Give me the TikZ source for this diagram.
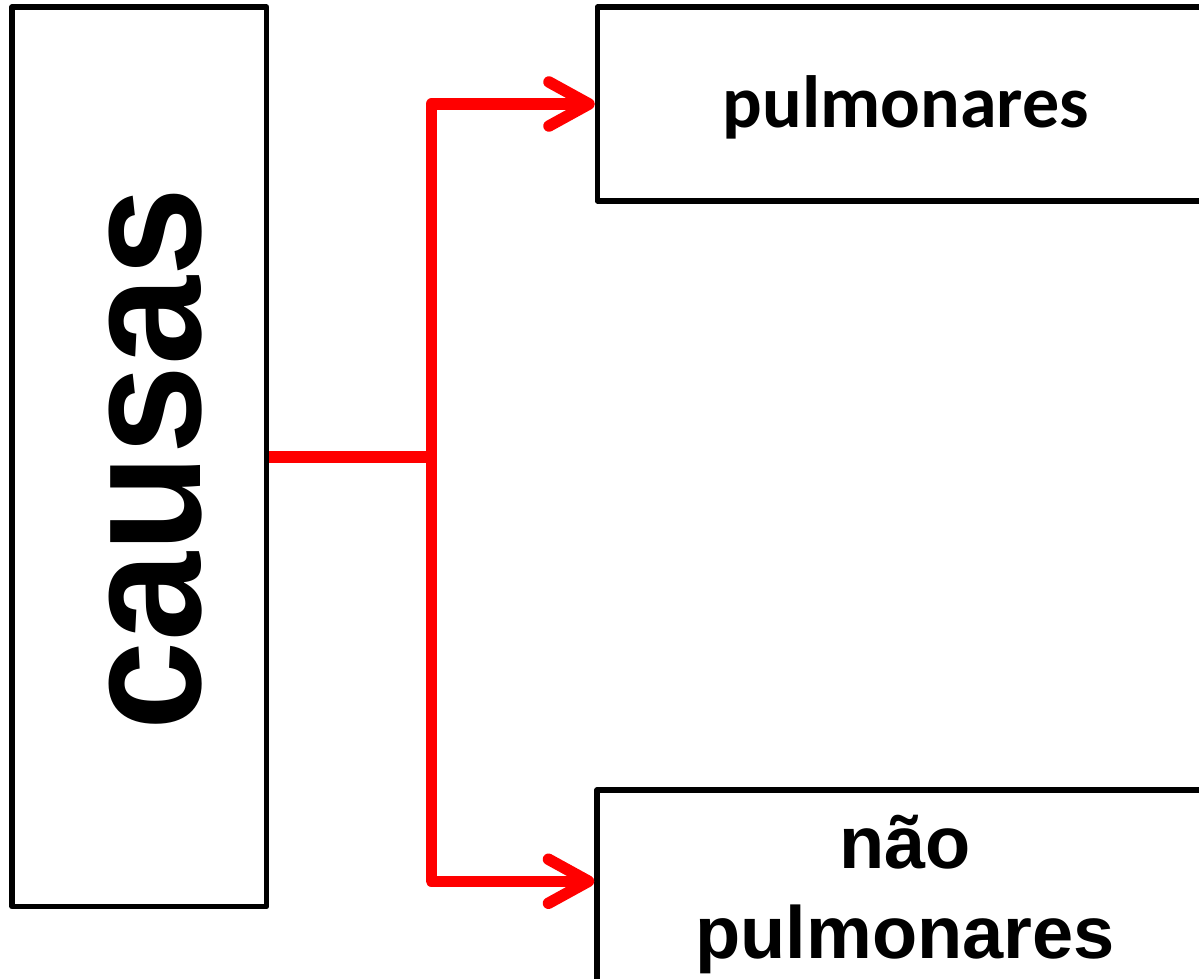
\documentclass[tikz,border=0pt]{standalone}
\usepackage{fontspec}
\setmainfont{Liberation Sans}
\newfontfamily\calfont{Carlito}
\usetikzlibrary{arrows.meta,calc}
\definecolor{linkred}{RGB}{255,0,0}
\tikzset{
  frame/.style={draw=black, line width=5.5pt, line join=round, rectangle, inner sep=0pt, fill=white},
  link/.style={draw=linkred, line width=11.5pt, line join=round},
  tipped/.style={link, {Straight Barb[length=40pt,width=44pt,round]}-{Straight Barb[length=40pt,width=44pt,round]}},
  word/.style={inner sep=0pt, anchor=base, text=black}
}
\begin{document}
\begin{tikzpicture}[x=1pt,y=-1pt]
  \useasboundingbox (0,0) rectangle (1199,978);
  % boxes
  \node[frame, minimum width=254.5pt, minimum height=899.5pt] (causas) at (139.25,456.75) {};
  \node[frame, minimum width=618pt, minimum height=194pt] (pulm) at (906.5,104) {};
  \node[frame, minimum width=618pt, minimum height=260pt] (naopulm) at (906,920) {};
  % labels
  \node[word, rotate=90] (causaslabel) at (200,459)
    {\scalebox{0.94}[1]{\fontsize{170}{170}\selectfont\bfseries causas}};
  \node[word] (pulmlabel) at (906,127) {\calfont\fontsize{74}{86}\selectfont\bfseries pulmonares};
  \node[word] (naolabel) at (905,868) {\fontsize{74}{86}\selectfont\bfseries não};
  \node[word] (naopulmlabel) at (905,958) {\fontsize{74}{86}\selectfont\bfseries pulmonares};
  % connectors
  \coordinate (fork) at (431.5,457);
  \coordinate (naoin) at ($(naopulm.north west)+(0,94)$);
  \draw[link] (causas.east |- fork) -- (fork);
  \draw[tipped] (pulm.west) -| (fork) |- (naoin);
\end{tikzpicture}
\end{document}
